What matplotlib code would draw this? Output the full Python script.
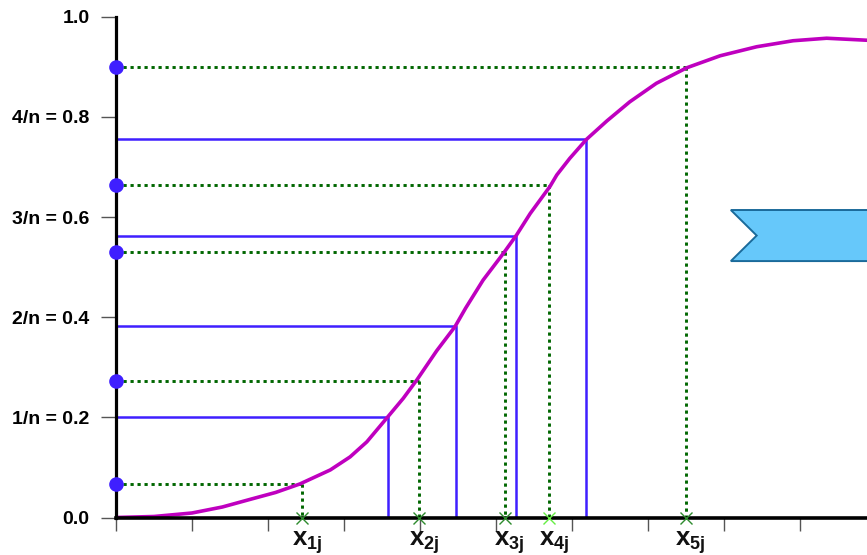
import numpy as np
import matplotlib.pyplot as plt
from matplotlib.patches import Polygon

# =====================================================
# DATA
# =====================================================

# magenta CDF curve
curve_x = [0, 0.5, 1.0, 1.4, 1.76, 2.1, 2.42, 2.82, 3.08, 3.30, 3.56,
           3.78, 3.96, 4.22, 4.46, 4.60, 4.83, 5.10, 5.27, 5.45, 5.71,
           5.80, 5.97, 6.19, 6.46, 6.76, 7.11, 7.51, 7.95, 8.43, 8.91,
           9.35, 9.88]
curve_y = [0, 0.002, 0.009, 0.021, 0.036, 0.05, 0.067, 0.095, 0.121, 0.151, 0.198,
           0.238, 0.275, 0.333, 0.381, 0.418, 0.474, 0.528, 0.564, 0.607, 0.661,
           0.684, 0.717, 0.755, 0.792, 0.830, 0.867, 0.898, 0.922, 0.940, 0.952,
           0.957, 0.953]

# green dotted projections (random u -> x_kj)
green_u = [0.066, 0.273, 0.531, 0.663, 0.9]
green_x = [2.45, 3.99, 5.12, 5.70, 7.50]
green_labels = ["$x_{1j}$", "$x_{2j}$", "$x_{3j}$", "$x_{4j}$", "$x_{5j}$"]

# blue solid steps (k/n levels)
blue_y = [0.2, 0.383, 0.563, 0.756]
blue_x = [3.58, 4.47, 5.26, 6.19]

# y axis ticks
y_ticks = [0.0, 0.2, 0.4, 0.6, 0.8, 1.0]
y_tick_labels = ["0.0", "1/n = 0.2", "2/n = 0.4", "3/n = 0.6", "4/n = 0.8", "1.0"]

# ribbon shape on the right
ribbon_x = [8.09, 10.5, 10.5, 8.09, 8.43]
ribbon_y = [0.614, 0.614, 0.512, 0.512, 0.563]

# =====================================================
# STYLE
# =====================================================

plt.rcParams["font.family"] = ["Liberation Sans", "DejaVu Sans"]
plt.rcParams["font.weight"] = "bold"
plt.rcParams["mathtext.fontset"] = "custom"
plt.rcParams["mathtext.rm"] = "Liberation Sans:bold"
plt.rcParams["mathtext.it"] = "Liberation Sans:bold"
plt.rcParams["mathtext.bf"] = "Liberation Sans:bold"

MAGENTA = "#bf00bf"
BLUE = "#3f1fff"
GREEN = "#006600"
DOTS = (0, (1.1, 1.3))

fig = plt.figure(figsize=(8.67, 5.55), dpi=100)
ax = fig.add_axes([116 / 867, 37.5 / 555, 751 / 867, 500.8 / 555])

ax.set_xlim(0, 751 / 76)
ax.set_ylim(0, 1.0)

# =====================================================
# LINES
# =====================================================

for u, xv in zip(green_u, green_x):
    ax.plot([0, xv], [u, u], color=GREEN, lw=2.1, linestyle=DOTS, zorder=2)
    ax.plot([xv, xv], [u, 0], color=GREEN, lw=2.1, linestyle=DOTS, zorder=2)

for yv, xv in zip(blue_y, blue_x):
    ax.plot([0, xv, xv], [yv, yv, 0], color=BLUE, lw=1.8, zorder=3)

ax.plot(curve_x, curve_y, color=MAGENTA, lw=2.6, zorder=4,
        solid_capstyle="round", solid_joinstyle="round")

# ribbon
ribbon = Polygon(list(zip(ribbon_x, ribbon_y)), closed=True,
                 facecolor="#66c8fa", edgecolor="#1a6a9a", lw=1.4, zorder=2)
ax.add_patch(ribbon)

# dots on y axis
ax.plot([0] * len(green_u), green_u, "o", color=BLUE, markersize=9.5,
        clip_on=False, zorder=6)

# crosses on x axis
cross_colors = ["#2e8b2e", "#2e8b2e", "#2e8b2e", "#66ee44", "#2e8b2e"]
for xv, c in zip(green_x, cross_colors):
    ax.plot([xv], [0], "x", color=c, markersize=8, mew=1.0,
            clip_on=False, zorder=6)

# x labels: "x" centred on the point, subscript to the right
for xv, lab in zip(green_x, green_labels):
    ax.text(xv - 0.14, -0.056, lab, fontsize=18.5, ha="left",
            va="baseline", color="#111111")

# =====================================================
# AXES
# =====================================================

for side in ["top", "right"]:
    ax.spines[side].set_visible(False)
ax.spines["left"].set_linewidth(2.3)
ax.spines["bottom"].set_linewidth(2.6)
ax.spines["left"].set_zorder(5)
ax.spines["bottom"].set_zorder(5)

ax.set_yticks(y_ticks)
ax.set_yticklabels(y_tick_labels, fontsize=14, fontweight="bold")
ax.tick_params(axis="y", direction="out", length=11, width=1.0,
               color="#555555", pad=8)

ax.set_xticks(np.arange(0, 10))
ax.set_xticklabels([])
ax.tick_params(axis="x", direction="out", length=9, width=1.0,
               color="#555555")

fig.savefig("out.png", dpi=100)
